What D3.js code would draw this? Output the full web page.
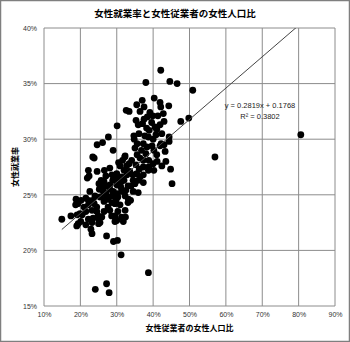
<!DOCTYPE html>
<html>
<head>
<meta charset="utf-8">
<script src="https://cdn.jsdelivr.net/npm/d3@7"></script>
<style>
  html, body { margin: 0; padding: 0; background: #fff; }
  svg { display: block; }
</style>
</head>
<body>
<script>
// Data: 女性従業者の女性人口比 (x, %) vs 女性就業率 (y, %)
const xValues = [
  42.1, 38.0, 44.6, 46.6, 50.9, 40.3, 37.0, 35.5, 37.5, 41.9,
  42.1, 44.3, 32.6, 33.4, 36.4, 38.4, 39.9, 41.3, 42.8, 35.3,
  47.6, 49.8, 30.1, 35.9, 37.1, 39.6, 40.5, 41.0, 38.2, 38.9,
  34.7, 34.8, 37.7, 38.7, 40.8, 40.0, 27.7, 44.4, 44.4, 42.2,
  43.0, 41.9, 26.1, 24.6, 35.6, 37.3, 38.3, 39.7, 40.2, 36.8,
  38.0, 57.0, 80.6, 29.0, 43.3, 23.4, 23.8, 35.6, 36.4, 37.3,
  41.1, 40.0, 32.2, 31.6, 30.5, 33.4, 35.3, 36.2, 37.3, 38.8,
  38.7, 30.9, 44.8, 45.2, 22.2, 22.4, 21.9, 26.6, 27.0, 24.6,
  33.6, 34.4, 35.5, 36.4, 37.3, 35.9, 37.3, 34.5, 30.0, 29.5,
  30.4, 31.3, 28.9, 30.4, 31.3, 32.0, 30.0, 31.1, 28.1, 27.0,
  25.9, 25.2, 26.3, 27.0, 28.1, 29.0, 30.0, 31.3, 22.6, 25.7,
  25.1, 18.8, 19.5, 21.5, 22.2, 23.4, 23.8, 24.5, 25.4, 26.8,
  27.2, 14.9, 17.4, 19.1, 19.4, 21.5, 22.2, 23.5, 25.1, 25.4,
  29.5, 29.5, 31.3, 31.8, 33.2, 33.8, 34.5, 19.0, 20.1, 23.2,
  22.9, 23.2, 25.0, 27.2, 30.0, 29.1, 30.2, 31.2, 38.7, 27.2,
  24.1, 27.9, 32.3, 32.7, 34.1, 20.2, 19.3, 18.7, 22.2, 19.9,
  20.5, 24.5, 24.9, 25.9, 28.6, 27.6, 28.7, 29.8, 28.7, 27.6,
  26.5, 28.1, 30.9, 32.3, 30.3, 26.5, 23.2, 21.5, 21.0, 24.0,
  32.3, 33.1, 32.5, 33.9, 35.0, 32.8, 32.0, 28.1, 28.7, 26.5,
  41.0, 38.8, 43.0, 41.9, 42.4, 39.1, 37.5, 43.5, 42.4, 40.2,
  36.1, 35.0, 29.5, 33.1, 30.3, 35.9, 32.4
];
const yValues = [
  36.2, 35.1, 35.2, 35.0, 34.4, 33.7, 33.5, 33.1, 32.9, 33.3,
  32.9, 33.0, 32.6, 32.5, 32.5, 32.0, 32.1, 32.1, 32.3, 31.7,
  31.6, 31.9, 31.2, 31.3, 31.4, 31.5, 31.1, 30.9, 31.0, 30.8,
  30.3, 30.0, 30.3, 30.2, 30.4, 30.0, 30.2, 30.2, 29.8, 29.6,
  29.5, 29.4, 29.7, 29.5, 29.6, 29.6, 29.3, 29.4, 29.0, 29.0,
  28.7, 28.4, 30.4, 29.0, 28.9, 28.4, 28.3, 28.6, 28.3, 28.1,
  28.0, 27.8, 28.4, 28.1, 27.9, 27.8, 27.7, 27.3, 27.5, 27.5,
  27.2, 27.6, 27.3, 26.0, 27.2, 26.7, 26.5, 27.2, 26.7, 27.1,
  27.1, 26.8, 26.9, 26.6, 26.8, 26.3, 26.1, 26.3, 26.9, 26.6,
  26.5, 26.6, 26.3, 26.2, 26.2, 26.3, 25.9, 25.7, 25.9, 25.8,
  25.7, 25.5, 25.3, 25.1, 25.5, 25.3, 25.1, 25.3, 25.3, 26.3,
  26.0, 24.6, 24.4, 24.7, 24.5, 24.5, 24.2, 23.9, 24.8, 24.6,
  24.8, 22.8, 23.1, 23.2, 22.4, 22.3, 22.8, 22.9, 22.8, 22.5,
  23.1, 22.6, 23.0, 22.6, 24.6, 24.5, 25.3, 22.2, 22.6, 22.5,
  21.9, 21.5, 22.4, 21.3, 22.7, 20.8, 20.9, 19.6, 18.0, 17.0,
  16.5, 16.2, 28.5, 27.6, 28.1, 24.5, 24.2, 24.1, 24.1, 23.3,
  23.2, 23.5, 23.1, 23.0, 23.1, 23.9, 24.3, 24.5, 24.9, 24.6,
  24.4, 23.6, 24.1, 23.6, 23.5, 23.5, 23.6, 23.5, 23.9, 24.9,
  24.9, 25.8, 25.4, 25.8, 26.0, 26.8, 27.2, 27.4, 26.8, 26.2,
  28.6, 28.1, 31.6, 31.3, 30.5, 32.4, 31.8, 28.0, 27.6, 27.2,
  30.5, 29.2, 24.2, 24.3, 24.8, 25.2, 23.0
];
const xTicks = [10, 20, 30, 40, 50, 60, 70, 80, 90];
const yTicks = [15, 20, 25, 30, 35, 40];
const trendSlope = 0.2819;
const trendIntercept = 0.1768;
const rSquared = 0.3802;

const WIDTH = 350;
const HEIGHT = 342;
const PLOT = { left: 44, right: 335, top: 28, bottom: 306 };
const JP_FONT = "'Noto Sans CJK JP', sans-serif";
const NUM_FONT = "'Liberation Sans', Arial, sans-serif";

const points = xValues.map((x, i) => ({ x: x, y: yValues[i] }));

const svg = d3.select("body")
  .append("svg")
  .attr("width", WIDTH)
  .attr("height", HEIGHT);

// outer frame
svg.append("rect")
  .attr("x", 0.5).attr("y", 0.5)
  .attr("width", WIDTH - 1).attr("height", HEIGHT - 1)
  .attr("fill", "#fff")
  .attr("stroke", "#7f7f7f")
  .attr("stroke-width", 1.5);

const xScale = d3.scaleLinear().domain([10, 90]).range([PLOT.left, PLOT.right]);
const yScale = d3.scaleLinear().domain([15, 40]).range([PLOT.bottom, PLOT.top]);

// grid
svg.append("g")
  .selectAll("line")
  .data(xTicks)
  .join("line")
  .attr("x1", d => xScale(d)).attr("x2", d => xScale(d))
  .attr("y1", PLOT.top).attr("y2", PLOT.bottom)
  .attr("stroke", "#8c8c8c").attr("stroke-width", 1);

svg.append("g")
  .selectAll("line")
  .data(yTicks)
  .join("line")
  .attr("x1", PLOT.left).attr("x2", PLOT.right)
  .attr("y1", d => yScale(d)).attr("y2", d => yScale(d))
  .attr("stroke", "#8c8c8c").attr("stroke-width", 1);

// axes (labels only, lines come from grid)
const xAxis = svg.append("g")
  .attr("transform", `translate(0, ${PLOT.bottom})`)
  .call(d3.axisBottom(xScale).tickValues(xTicks).tickSize(0).tickPadding(6).tickFormat(d => d + "%"));
const yAxis = svg.append("g")
  .attr("transform", `translate(${PLOT.left}, 0)`)
  .call(d3.axisLeft(yScale).tickValues(yTicks).tickSize(0).tickPadding(7).tickFormat(d => d + "%"));

[xAxis, yAxis].forEach(ax => {
  ax.select(".domain").remove();
  ax.selectAll("text")
    .attr("fill", "#333")
    .style("font-family", NUM_FONT)
    .style("font-size", "7px");
});

// points
svg.append("g")
  .selectAll("circle")
  .data(points)
  .join("circle")
  .attr("cx", d => xScale(d.x))
  .attr("cy", d => yScale(d.y))
  .attr("r", 3.4)
  .attr("fill", "#000");

// trend line
svg.append("clipPath").attr("id", "plotClip")
  .append("rect")
  .attr("x", PLOT.left).attr("y", PLOT.top)
  .attr("width", PLOT.right - PLOT.left).attr("height", PLOT.bottom - PLOT.top);

const xExt = d3.extent(points, d => d.x);
const trend = xExt.map(x => ({ x: x, y: (trendSlope * x / 100 + trendIntercept) * 100 }));

svg.append("path")
  .datum(trend)
  .attr("clip-path", "url(#plotClip)")
  .attr("fill", "none")
  .attr("stroke", "#444")
  .attr("stroke-width", 1)
  .attr("d", d3.line().x(d => xScale(d.x)).y(d => yScale(d.y)));

// trend equation
const eq = svg.append("text")
  .attr("text-anchor", "middle")
  .attr("fill", "#222")
  .style("font-family", NUM_FONT)
  .style("font-size", "7.5px");
eq.append("tspan").attr("x", 260).attr("y", 108)
  .text(`y = ${trendSlope}x + ${trendIntercept}`);
eq.append("tspan").attr("x", 260).attr("y", 119)
  .text(`R² = ${rSquared}`);

// titles
svg.append("text")
  .attr("x", 175).attr("y", 17)
  .attr("text-anchor", "middle")
  .style("font-family", JP_FONT)
  .style("font-size", "9.5px")
  .style("font-weight", "bold")
  .text("女性就業率と女性従業者の女性人口比");

svg.append("text")
  .attr("x", (PLOT.left + PLOT.right) / 2).attr("y", 331)
  .attr("text-anchor", "middle")
  .style("font-family", JP_FONT)
  .style("font-size", "8px")
  .style("font-weight", "bold")
  .text("女性従業者の女性人口比");

svg.append("text")
  .attr("transform", `translate(18, ${(PLOT.top + PLOT.bottom) / 2}) rotate(-90)`)
  .attr("text-anchor", "middle")
  .style("font-family", JP_FONT)
  .style("font-size", "8px")
  .style("font-weight", "bold")
  .text("女性就業率");
</script>
</body>
</html>
